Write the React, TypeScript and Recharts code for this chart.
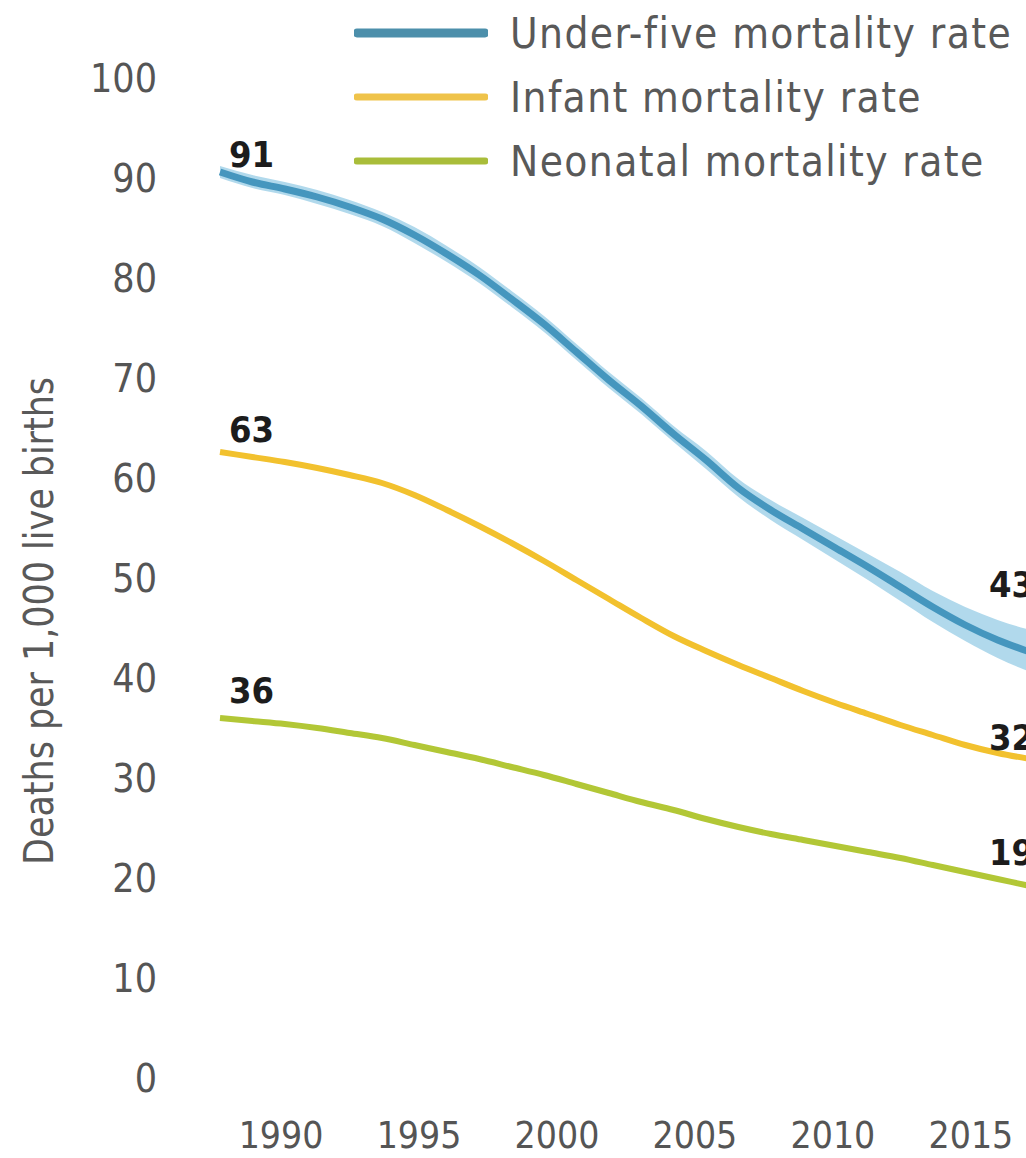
import React from "react";
import {
  Area,
  ComposedChart,
  LabelList,
  Legend,
  Line,
  XAxis,
  YAxis,
} from "recharts";

// Years 1990–2015, values (deaths per 1,000 live births)
const years = [
  1990, 1991, 1992, 1993, 1994, 1995, 1996, 1997, 1998, 1999, 2000, 2001, 2002,
  2003, 2004, 2005, 2006, 2007, 2008, 2009, 2010, 2011, 2012, 2013, 2014, 2015,
];

const underFive = [
  90.6, 89.6, 88.9, 88.1, 87.1, 85.9, 84.3, 82.4, 80.3, 77.9, 75.4, 72.6, 69.8,
  67.2, 64.4, 61.8, 59.0, 56.8, 54.9, 53.0, 51.1, 49.1, 47.1, 45.3, 43.8, 42.6,
];
const underFiveHigh = [
  91.2, 90.3, 89.6, 88.8, 87.8, 86.6, 85.1, 83.2, 81.1, 78.7, 76.2, 73.4, 70.6,
  68.0, 65.2, 62.7, 59.9, 57.8, 56.0, 54.2, 52.4, 50.6, 48.7, 47.1, 45.8, 44.8,
];
const underFiveLow = [
  90.0, 89.0, 88.3, 87.4, 86.4, 85.2, 83.5, 81.6, 79.5, 77.1, 74.6, 71.8, 69.0,
  66.4, 63.6, 60.9, 58.1, 55.8, 53.8, 51.8, 49.8, 47.7, 45.6, 43.7, 42.0, 40.6,
];
const infant = [
  62.6, 62.1, 61.6, 61.0, 60.3, 59.5, 58.3, 56.8, 55.2, 53.5, 51.7, 49.8, 47.9,
  46.0, 44.2, 42.7, 41.3, 40.0, 38.7, 37.5, 36.4, 35.3, 34.3, 33.3, 32.5, 31.9,
];
const neonatal = [
  36.0, 35.7, 35.4, 35.0, 34.5, 34.0, 33.3, 32.6, 31.9, 31.1, 30.3, 29.4, 28.5,
  27.6, 26.8, 25.9, 25.1, 24.4, 23.8, 23.2, 22.6, 22.0, 21.3, 20.6, 19.9, 19.2,
];

const xTicks = [1990, 1995, 2000, 2005, 2010, 2015];
const yTicks = [0, 10, 20, 30, 40, 50, 60, 70, 80, 90, 100];

const data = years.map((year, i) => ({
  year,
  underFive: underFive[i],
  u5Band: [underFiveLow[i], underFiveHigh[i]],
  infant: infant[i],
  neonatal: neonatal[i],
}));

const FONT = "'DejaVu Sans Condensed', 'DejaVu Sans', sans-serif";

// series styling (kept apart from the data)
const seriesStyle = [
  { key: "underFive", name: "Under-five mortality rate", stroke: "#4596be", legend: "#4c8fab", width: 7, legendWidth: 9, startDy: 5, endDy: 55 },
  { key: "infant", name: "Infant mortality rate", stroke: "#f2c12e", legend: "#efc34a", width: 6, legendWidth: 7, startDy: 10, endDy: 9 },
  { key: "neonatal", name: "Neonatal mortality rate", stroke: "#b2c736", legend: "#a9bd3a", width: 6, legendWidth: 7, startDy: 15, endDy: 21 },
];

const makeEndLabel = (startDy: number, endDy: number) => (props: any) => {
  const { x, y, value, index } = props;
  const last = data.length - 1;
  if (index !== 0 && index !== last) return null;
  const isStart = index === 0;
  return (
    <text
      x={isStart ? x + 9 : x - 41}
      y={isStart ? y - startDy : y - endDy}
      fill="#1c1c1c"
      fontSize={36}
      fontWeight="bold"
      fontFamily={FONT}
      textAnchor="start"
    >
      {Math.round(value)}
    </text>
  );
};

// legend drawn in the series' own order
const LegendContent = () => (
  <div>
    {seriesStyle.map((st) => (
      <div
        key={st.key}
        style={{ display: "flex", alignItems: "center", height: 64 }}
      >
        <svg width={134} height={12}>
          <line
            x1={3}
            y1={6}
            x2={131}
            y2={6}
            stroke={st.legend}
            strokeWidth={st.legendWidth}
            strokeLinecap="round"
          />
        </svg>
        <span
          style={{
            marginLeft: 22,
            fontFamily: FONT,
            fontSize: 42,
            letterSpacing: 1.4,
            color: "#595959",
            whiteSpace: "nowrap",
          }}
        >
          {st.name}
        </span>
      </div>
    ))}
  </div>
);

const YTitle = () => (
  <text
    x={53}
    y={621}
    transform="rotate(-90 53 621)"
    textAnchor="middle"
    fill="#595959"
    fontSize={40}
    fontFamily="'Liberation Sans Narrow', 'DejaVu Sans Condensed', sans-serif"
    textLength={488}
    lengthAdjust="spacingAndGlyphs"
  >
    Deaths per 1,000 live births
  </text>
);

export default function App() {
  const yTickStyle = { fontSize: 39, fontFamily: FONT, fill: "#555555" };
  const xTickStyle = { fontSize: 37, fontFamily: FONT, fill: "#555555" };
  return (
    <div
      style={{
        position: "absolute",
        left: 0,
        top: 0,
        width: 1026,
        height: 1158,
        overflow: "hidden",
        background: "#ffffff",
      }}
    >
      <ComposedChart
        width={1034}
        height={1158}
        data={data}
        margin={{ top: 78, right: 4, left: 0, bottom: 0 }}
      >
        <XAxis
          xAxisId="data"
          dataKey="year"
          type="number"
          domain={[1990, 2015]}
          hide
        />
        <XAxis
          xAxisId="labels"
          dataKey="year"
          type="number"
          domain={[1987.79, 2017.14]}
          allowDataOverflow
          ticks={xTicks}
          axisLine={false}
          tickLine={false}
          tickSize={0}
          tickMargin={14}
          height={80}
          tick={xTickStyle}
        />
        <YAxis
          type="number"
          domain={[0, 100]}
          ticks={yTicks}
          axisLine={false}
          tickLine={false}
          tickSize={0}
          tickMargin={63}
          width={220}
          tick={yTickStyle}
          label={{ content: () => <YTitle /> }}
        />
        <Legend
          layout="vertical"
          align="center"
          verticalAlign="middle"
          wrapperStyle={{ top: 1, left: 354, width: 680 }}
          content={<LegendContent />}
        />
        <Area
          xAxisId="data"
          type="monotone"
          dataKey="u5Band"
          stroke="none"
          fill="#a8d5ea"
          fillOpacity={0.9}
          legendType="none"
          isAnimationActive={false}
        />
        {seriesStyle.map((st) => (
          <Line
            key={st.key}
            xAxisId="data"
            type="monotone"
            dataKey={st.key}
            name={st.name}
            stroke={st.stroke}
            strokeWidth={st.width}
            dot={false}
            isAnimationActive={false}
          >
            <LabelList
              dataKey={st.key}
              content={makeEndLabel(st.startDy, st.endDy)}
            />
          </Line>
        ))}
      </ComposedChart>
    </div>
  );
}
